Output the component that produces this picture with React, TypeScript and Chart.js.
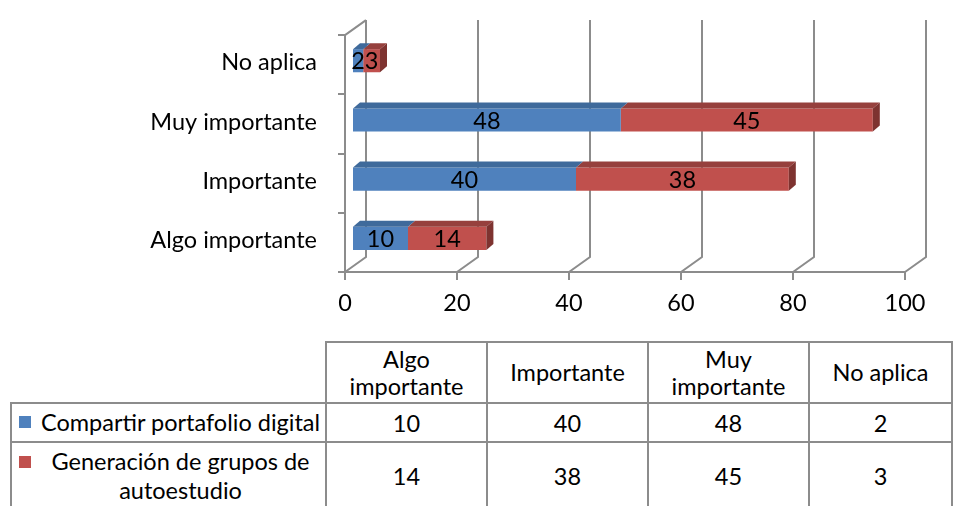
import React, { useEffect, useRef } from "react";
import { Chart, registerables } from "chart.js";

Chart.register(...registerables);

// ---- data ----
const categories = ["Algo importante", "Importante", "Muy importante", "No aplica"];
const headerLines = [["Algo", "importante"], ["Importante"], ["Muy", "importante"], ["No aplica"]];
const seriesNames = ["Compartir portafolio digital", "Generación de grupos de autoestudio"];
const seriesNameLines = [["Compartir portafolio digital"], ["Generación de grupos de", "autoestudio"]];
const compartir = [10, 40, 48, 2];
const generacion = [14, 38, 45, 3];
const xTicks = [0, 20, 40, 60, 80, 100];

// ---- styles ----
const FONT = "Lato, 'Open Sans', sans-serif";
const FONT_SIZE = 23.5;
const GRID = "#8c8c8c";
const BLUE = "#4F81BD";
const RED = "#C0504D";
const TOP_COLORS = ["#3f6a9b", "#96403d"];
const SIDE_COLORS = ["#35598a", "#7e3330"];
const WALL_DX = 21;
const WALL_DY = -15;
const BAR_SHIFT_X = 7;
const BAR_SHIFT_Y = -4;
const BAR_DX = 7;
const BAR_DY = -6;

const depthPlugin = {
  id: "depth3d",
  beforeDatasetsDraw(chart: any) {
    const { ctx, chartArea, scales } = chart;
    const { top, bottom, left } = chartArea;
    const x = scales.x;
    ctx.save();
    ctx.strokeStyle = GRID;
    ctx.lineWidth = 2;
    ctx.beginPath();
    for (const v of xTicks) {
      const px = x.getPixelForValue(v);
      ctx.moveTo(px, bottom);
      ctx.lineTo(px + WALL_DX, bottom + WALL_DY);
      ctx.lineTo(px + WALL_DX, top + WALL_DY);
    }
    ctx.moveTo(left, top);
    ctx.lineTo(left + WALL_DX, top + WALL_DY);
    ctx.stroke();
    ctx.restore();
  },
  beforeDatasetDraw(chart: any) {
    chart.ctx.save();
    chart.ctx.translate(BAR_SHIFT_X, BAR_SHIFT_Y);
  },
  afterDatasetDraw(chart: any, args: any) {
    const ctx = chart.ctx;
    const di = args.index;
    const last = di === chart.data.datasets.length - 1;
    const values = chart.data.datasets[di].data;
    args.meta.data.forEach((bar: any, i: number) => {
      const { x, y, base, height } = bar.getProps(["x", "y", "base", "height"], true);
      const t = y - height / 2;
      const b = y + height / 2;
      ctx.fillStyle = TOP_COLORS[di];
      ctx.beginPath();
      ctx.moveTo(base, t);
      ctx.lineTo(x, t);
      ctx.lineTo(x + BAR_DX, t + BAR_DY);
      ctx.lineTo(base + BAR_DX, t + BAR_DY);
      ctx.closePath();
      ctx.fill();
      if (last) {
        ctx.fillStyle = SIDE_COLORS[di];
        ctx.beginPath();
        ctx.moveTo(x, t);
        ctx.lineTo(x + BAR_DX, t + BAR_DY);
        ctx.lineTo(x + BAR_DX, b + BAR_DY);
        ctx.lineTo(x, b);
        ctx.closePath();
        ctx.fill();
      }
      ctx.fillStyle = "#000";
      ctx.font = `${FONT_SIZE}px ${FONT}`;
      ctx.textAlign = "center";
      ctx.textBaseline = "middle";
      ctx.fillText(String(values[i]), (x + base) / 2, y + 1);
    });
    ctx.restore();
  },
};

const CANVAS_H = 330;
const CHART_LEFT = 345;
const CHART_BOTTOM = 272;

function ChartCanvas() {
  const ref = useRef<HTMLCanvasElement | null>(null);
  useEffect(() => {
    if (!ref.current) return;
    const chart = new Chart(ref.current, {
      type: "bar",
      data: {
        labels: categories,
        datasets: [
          { label: seriesNames[0], data: compartir, backgroundColor: BLUE, borderWidth: 0 },
          { label: seriesNames[1], data: generacion, backgroundColor: RED, borderWidth: 0 },
        ],
      },
      options: {
        indexAxis: "y",
        responsive: false,
        animation: false,
        events: [],
        layout: { padding: { left: 0, right: 48, top: 30, bottom: 0 } },
        datasets: { bar: { categoryPercentage: 1, barPercentage: 0.39 } },
        plugins: { legend: { display: false }, tooltip: { enabled: false } },
        scales: {
          x: {
            stacked: true,
            min: 0,
            max: 100,
            ticks: { stepSize: 20, color: "#000", font: { family: FONT, size: FONT_SIZE }, padding: 9, maxRotation: 0 },
            grid: { drawOnChartArea: false, drawTicks: true, tickLength: 8, color: GRID, lineWidth: 2 },
            border: { display: true, color: GRID, width: 2 },
            afterFit: (s: any) => {
              s.height = CANVAS_H - CHART_BOTTOM;
            },
          },
          y: {
            stacked: true,
            reverse: true,
            ticks: { color: "#000", font: { family: FONT, size: FONT_SIZE }, padding: 21, labelOffset: -2 },
            grid: { drawOnChartArea: false, drawTicks: true, tickLength: 7, color: GRID, lineWidth: 2, offset: true },
            border: { display: true, color: GRID, width: 2 },
            afterFit: (s: any) => {
              s.width = CHART_LEFT;
            },
          },
        },
      },
      plugins: [depthPlugin],
    } as any);
    return () => chart.destroy();
  }, []);
  return <canvas ref={ref} width={953} height={CANVAS_H} style={{ position: "absolute", left: 0, top: 0 }} />;
}

const B = `2px solid ${GRID}`;
const colWidths = [315, 161, 161, 161, 143];
const keyColors = [BLUE, RED];
const seriesValues = [compartir, generacion];

export default function App() {
  const cell: React.CSSProperties = { border: B, padding: 0, textAlign: "center", verticalAlign: "middle" };
  return (
    <div style={{ position: "fixed", left: 0, top: 0, width: 953, height: 506, overflow: "hidden", background: "#fff" }}>
      <ChartCanvas />
      <table
        style={{
          position: "absolute",
          left: 10,
          top: 341,
          borderCollapse: "collapse",
          tableLayout: "fixed",
          fontFamily: FONT,
          fontSize: FONT_SIZE,
          color: "#000",
        }}
      >
        <colgroup>
          {colWidths.map((w, i) => (
            <col key={i} style={{ width: w }} />
          ))}
        </colgroup>
        <tbody>
          <tr style={{ height: 61 }}>
            <td style={{ ...cell, borderTop: "none", borderLeft: "none" }}></td>
            {headerLines.map((lines, i) => (
              <td key={i} style={{ ...cell, lineHeight: "27px" }}>
                {lines.map((l, j) => (
                  <div key={j}>{l}</div>
                ))}
              </td>
            ))}
          </tr>
          {seriesNameLines.map((lines, si) => (
            <tr key={si} style={{ height: si === 0 ? 39 : 68 }}>
              <td style={{ ...cell, position: "relative" }}>
                <span
                  style={{
                    position: "absolute",
                    left: 7,
                    top: si === 0 ? 12 : 13,
                    width: 12,
                    height: 12,
                    background: keyColors[si],
                  }}
                />
                <div style={{ marginLeft: 24, lineHeight: "29px", whiteSpace: "nowrap" }}>
                  {lines.map((l, j) => (
                    <div key={j}>{l}</div>
                  ))}
                </div>
              </td>
              {seriesValues[si].map((v, i) => (
                <td key={i} style={cell}>
                  {v}
                </td>
              ))}
            </tr>
          ))}
        </tbody>
      </table>
    </div>
  );
}
